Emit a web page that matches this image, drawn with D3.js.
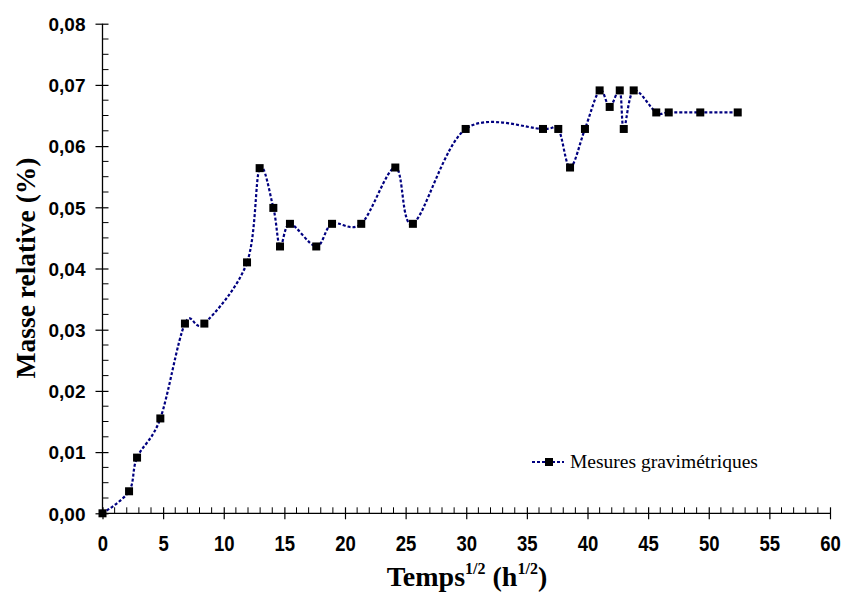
<!DOCTYPE html>
<html>
<head>
<meta charset="utf-8">
<script src="https://cdn.jsdelivr.net/npm/d3@7"></script>
<style>
  html, body { margin: 0; padding: 0; background: #fff; }
  svg { display: block; }
</style>
</head>
<body>
<svg id="chart" width="845" height="592"></svg>
<script>
// ---- data ----
const timeSqrt = [0, 2.19, 2.85, 4.77, 6.8, 8.4, 11.92, 12.96, 14.09, 14.64, 15.46,
  17.63, 18.93, 21.34, 24.15, 25.6, 29.95, 36.33, 37.59, 38.56, 39.79, 41.0, 41.83,
  42.66, 42.99, 43.81, 45.67, 46.7, 49.3, 52.39];
const masseRelative = [0, 0.0036, 0.0091, 0.0155, 0.031, 0.031, 0.041, 0.0564, 0.0499, 0.0436, 0.0473,
  0.0436, 0.0473, 0.0473, 0.0565, 0.0473, 0.0628, 0.0628, 0.0628, 0.0565, 0.0628, 0.0691, 0.0664,
  0.0691, 0.0628, 0.0691, 0.0655, 0.0655, 0.0655, 0.0655];
const xTickValues = [0, 5, 10, 15, 20, 25, 30, 35, 40, 45, 50, 55, 60];
const yTickValues = [0, 0.01, 0.02, 0.03, 0.04, 0.05, 0.06, 0.07, 0.08];
const seriesName = "Mesures gravimétriques";

const svg = d3.select("#chart");
const x = d3.scaleLinear().domain([0, 60]).range([102.5, 830]);
const y = d3.scaleLinear().domain([0, 0.08]).range([513.3, 23.7]);

const fmtY = v => d3.format(".2f")(v).replace(".", ",");
const sans = "'Liberation Sans', Arial, sans-serif";
const serif = "'Liberation Serif', 'Times New Roman', serif";

// minor ticks
const xMinor = d3.range(0, 61, 1).filter(v => v % 5 !== 0);
const yMinor = d3.range(0, 0.0801, 0.0025).filter(v => Math.abs(v / 0.01 - Math.round(v / 0.01)) > 1e-6);

const gx = svg.append("g").attr("transform", `translate(0,${y(0)})`);
gx.call(d3.axisBottom(x).tickValues(xTickValues).tickSize(6).tickFormat(d3.format("d")));
gx.select(".domain").attr("stroke", "#000").attr("stroke-width", 1.3).attr("d", `M${x(0)},0H${x(60)}`);
gx.selectAll(".tick line").attr("y1", -6).attr("y2", 6).attr("stroke", "#000").attr("stroke-width", 1.2);
gx.selectAll(".tick text").attr("y", 31.4).attr("dy", 0).attr("transform", "scale(1,1.2)")
  .style("font-family", sans).style("font-weight", "bold").style("font-size", "18.5px").attr("fill", "#000");
gx.selectAll(".minor").data(xMinor).enter().append("line")
  .attr("x1", d => x(d)).attr("x2", d => x(d)).attr("y1", 0).attr("y2", -6)
  .attr("stroke", "#000").attr("stroke-width", 1);

const gy = svg.append("g").attr("transform", `translate(${x(0)},0)`);
gy.call(d3.axisLeft(y).tickValues(yTickValues).tickSize(7).tickFormat(fmtY));
gy.select(".domain").attr("stroke", "#000").attr("stroke-width", 1.3).attr("d", `M0,${y(0)}V${y(0.08)}`);
gy.selectAll(".tick line").attr("x1", -7).attr("x2", 6).attr("stroke", "#000").attr("stroke-width", 1.2);
gy.selectAll(".tick text").attr("x", -17).attr("dy", "0.36em")
  .style("font-family", sans).style("font-weight", "bold").style("font-size", "19px").attr("fill", "#000");
gy.selectAll(".minor").data(yMinor).enter().append("line")
  .attr("x1", 0).attr("x2", 6).attr("y1", d => y(d)).attr("y2", d => y(d))
  .attr("stroke", "#000").attr("stroke-width", 1);
svg.selectAll(".domain").attr("fill", "none");

// series
const pts = timeSqrt.map((t, i) => [t, masseRelative[i]]);
const line = d3.line().x(d => x(d[0])).y(d => y(d[1])).curve(d3.curveCardinal.tension(0));
svg.append("path").datum(pts).attr("d", line)
  .attr("fill", "none").attr("stroke", "#000080").attr("stroke-width", 2.2)
  .attr("stroke-dasharray", "3,2");
svg.append("g").selectAll("rect").data(pts).enter().append("rect")
  .attr("x", d => x(d[0]) - 4).attr("y", d => y(d[1]) - 4)
  .attr("width", 8).attr("height", 8).attr("fill", "#000");

// legend
const lg = svg.append("g");
lg.append("line").attr("x1", 532).attr("x2", 564).attr("y1", 462).attr("y2", 462)
  .attr("stroke", "#000080").attr("stroke-width", 2.2).attr("stroke-dasharray", "3,2");
lg.append("rect").attr("x", 545).attr("y", 458).attr("width", 8).attr("height", 8).attr("fill", "#000");
lg.append("text").attr("x", 570).attr("y", 468).text(seriesName)
  .style("font-family", serif).style("font-size", "19.5px").attr("fill", "#000");

// axis titles
const xt = svg.append("text").attr("x", 467).attr("y", 586).attr("text-anchor", "middle")
  .style("font-family", serif).style("font-weight", "bold").style("font-size", "28px").attr("fill", "#000");
xt.append("tspan").text("Temps");
xt.append("tspan").attr("dy", -12).style("font-size", "16px").text("1/2");
xt.append("tspan").attr("dy", 12).text(" (h");
xt.append("tspan").attr("dy", -12).style("font-size", "16px").text("1/2");
xt.append("tspan").attr("dy", 12).text(")");

svg.append("text").attr("transform", "translate(35,268) rotate(-90)").attr("text-anchor", "middle")
  .style("font-family", serif).style("font-weight", "bold").style("font-size", "27.5px").attr("fill", "#000")
  .text("Masse relative (%)");
</script>
</body>
</html>
